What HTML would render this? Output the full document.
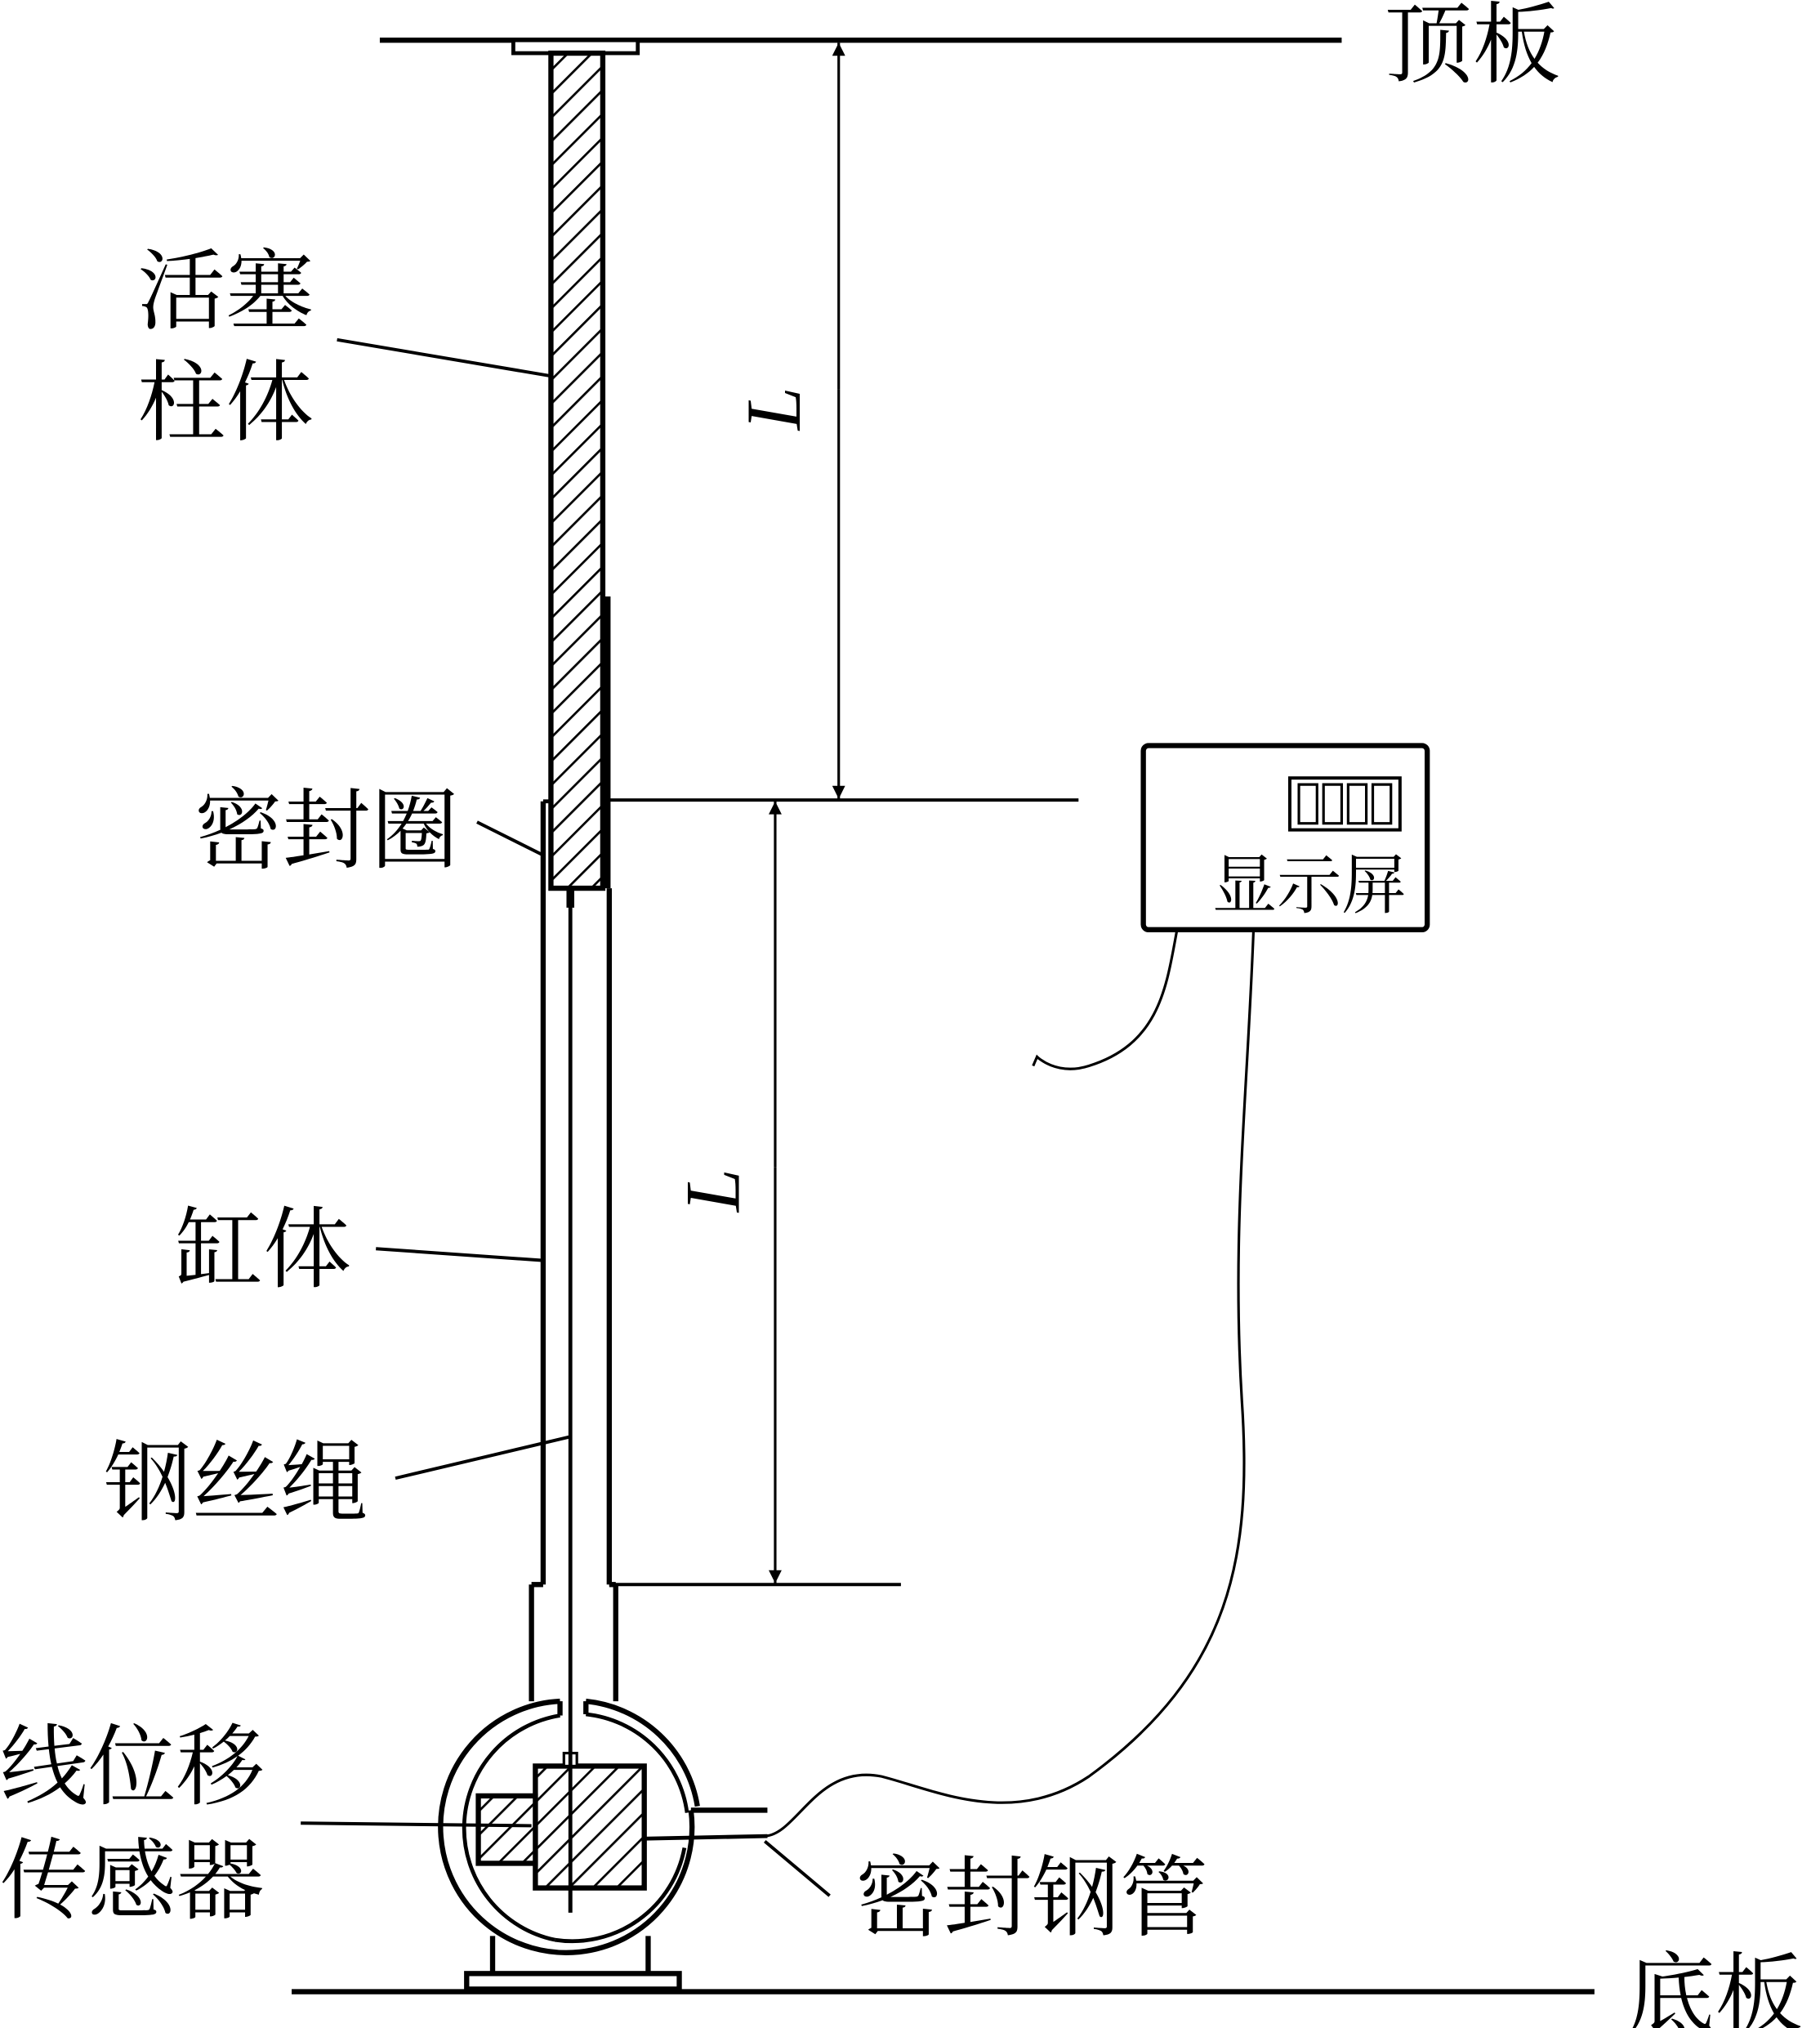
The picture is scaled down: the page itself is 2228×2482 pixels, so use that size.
<!DOCTYPE html>
<html><head><meta charset="utf-8"><style>
html,body{margin:0;padding:0;background:#fff}
svg{display:block}
text{font-family:"Liberation Serif","Noto Serif CJK SC","Noto Sans CJK SC",serif;fill:#000}
</style></head><body>
<svg width="2228" height="2482" viewBox="0 0 1404 1564" preserveAspectRatio="none" xmlns="http://www.w3.org/2000/svg">
<defs>
<pattern id="h" width="13" height="13" patternUnits="userSpaceOnUse" patternTransform="rotate(45)">
<rect width="13" height="13" fill="#fff"/><line x1="0" y1="0" x2="0" y2="13" stroke="#000" stroke-width="3.5"/>
</pattern>
<marker id="a" viewBox="0 0 10 10" refX="10" refY="5" markerWidth="30" markerHeight="10" markerUnits="userSpaceOnUse" orient="auto"><path d="M0,0L10,5L0,10z"/></marker>
</defs>
<g stroke="#000" fill="none">
<line x1="293" y1="31" x2="1035" y2="31" stroke-width="4"/>
<rect x="396" y="31" width="96" height="10" stroke-width="3" fill="#fff"/>
<rect x="425" y="41" width="40" height="644" stroke-width="4" fill="url(#h)"/>
<line x1="468" y1="460" x2="468" y2="685" stroke-width="6"/>
<line x1="419" y1="618" x2="419" y2="1222" stroke-width="4"/>
<line x1="419" y1="618" x2="426" y2="618" stroke-width="3"/>
<line x1="470" y1="685" x2="470" y2="1222" stroke-width="4"/>
<line x1="410" y1="1222" x2="419" y2="1222" stroke-width="4"/>
<line x1="470" y1="1222" x2="475" y2="1222" stroke-width="4"/>
<line x1="410" y1="1222" x2="410" y2="1312" stroke-width="4"/>
<line x1="475" y1="1222" x2="475" y2="1312" stroke-width="4"/>
<line x1="440" y1="685" x2="440" y2="700" stroke-width="6"/>
<line x1="440" y1="685" x2="440" y2="1475" stroke-width="3"/>
<path d="M432,1312 A97,97 0 1 0 533,1396" stroke-width="4"/>
<path d="M432,1323 A88,88 0 0 0 428,1496" stroke-width="3"/>
<path d="M452,1312 A97,97 0 0 1 538,1393" stroke-width="4"/>
<path d="M452,1322 A88,88 0 0 1 530,1398" stroke-width="3"/>
<path d="M428,1496 A88,88 0 0 0 528,1425" stroke-width="3"/>
<line x1="432" y1="1312" x2="432" y2="1323" stroke-width="4"/>
<line x1="452" y1="1312" x2="452" y2="1322" stroke-width="4"/>
<line x1="533" y1="1396" x2="592" y2="1396" stroke-width="4"/>
<line x1="497" y1="1418" x2="592" y2="1416" stroke-width="3"/>
<rect x="413" y="1362" width="84" height="94" stroke-width="4" fill="url(#h)"/>
<rect x="369" y="1385" width="44" height="52" stroke-width="4" fill="url(#h)"/>
<rect x="435" y="1352" width="10" height="10" stroke-width="2" fill="#fff"/>
<line x1="440" y1="1352" x2="440" y2="1475" stroke-width="3"/>
<path d="M380,1493 V1522 M500,1493 V1522" stroke-width="4"/>
<rect x="360" y="1522" width="164" height="12" stroke-width="4"/>
<line x1="225" y1="1536" x2="1230" y2="1536" stroke-width="4"/>
<line x1="470" y1="617" x2="832" y2="617" stroke-width="2.5"/>
<line x1="470" y1="1222" x2="695" y2="1222" stroke-width="2.5"/>
<line x1="647" y1="300" x2="647" y2="33" stroke-width="2" marker-end="url(#a)"/>
<line x1="647" y1="300" x2="647" y2="616" stroke-width="2" marker-end="url(#a)"/>
<line x1="598" y1="900" x2="598" y2="618" stroke-width="2" marker-end="url(#a)"/>
<line x1="598" y1="900" x2="598" y2="1221" stroke-width="2" marker-end="url(#a)"/>
<rect x="882" y="575" width="219" height="142" rx="4" stroke-width="4"/>
<rect x="995" y="600" width="85" height="40" stroke-width="2.5"/>
<path d="M1002,605h14v30h-14z M1021,605h14v30h-14z M1040,605h14v30h-14z M1059,605h14v30h-14z" stroke-width="2"/>
<path d="M908,717 C900,760 895,805 840,822 C815,830 800,815 800,815 L797,822" stroke-width="2"/>
<path d="M967,717 C962,850 950,950 958,1080 C966,1200 950,1290 840,1370 C780,1410 720,1380 680,1370 C630,1360 615,1415 590,1416" stroke-width="2"/>
<line x1="260" y1="262" x2="425" y2="290" stroke-width="2.5"/>
<line x1="368" y1="634" x2="420" y2="660" stroke-width="2.5"/>
<line x1="290" y1="963" x2="418" y2="972" stroke-width="2.5"/>
<line x1="305" y1="1140" x2="440" y2="1108" stroke-width="2.5"/>
<line x1="232" y1="1406" x2="410" y2="1408" stroke-width="2.5"/>
<line x1="640" y1="1462" x2="590" y2="1420" stroke-width="2.5"/>
</g>
<g font-size="68">
<text x="1068" y="58">顶板</text>
<text x="106" y="248">活塞</text>
<text x="106" y="334">柱体</text>
<text x="150" y="664">密封圈</text>
<text x="135" y="987">缸体</text>
<text x="80" y="1167">钢丝绳</text>
<text x="0" y="1386">线位移</text>
<text x="0" y="1474">传感器</text>
<text x="660" y="1487">密封钢管</text>
<text x="1255" y="1562">底板</text>
</g>
<text x="935" y="700" font-size="50">显示屏</text>
<text transform="translate(617,315) rotate(-90)" font-size="60" font-style="italic" text-anchor="middle">L</text>
<text transform="translate(570,918) rotate(-90)" font-size="60" font-style="italic" text-anchor="middle">L</text>
</svg>
</body></html>
